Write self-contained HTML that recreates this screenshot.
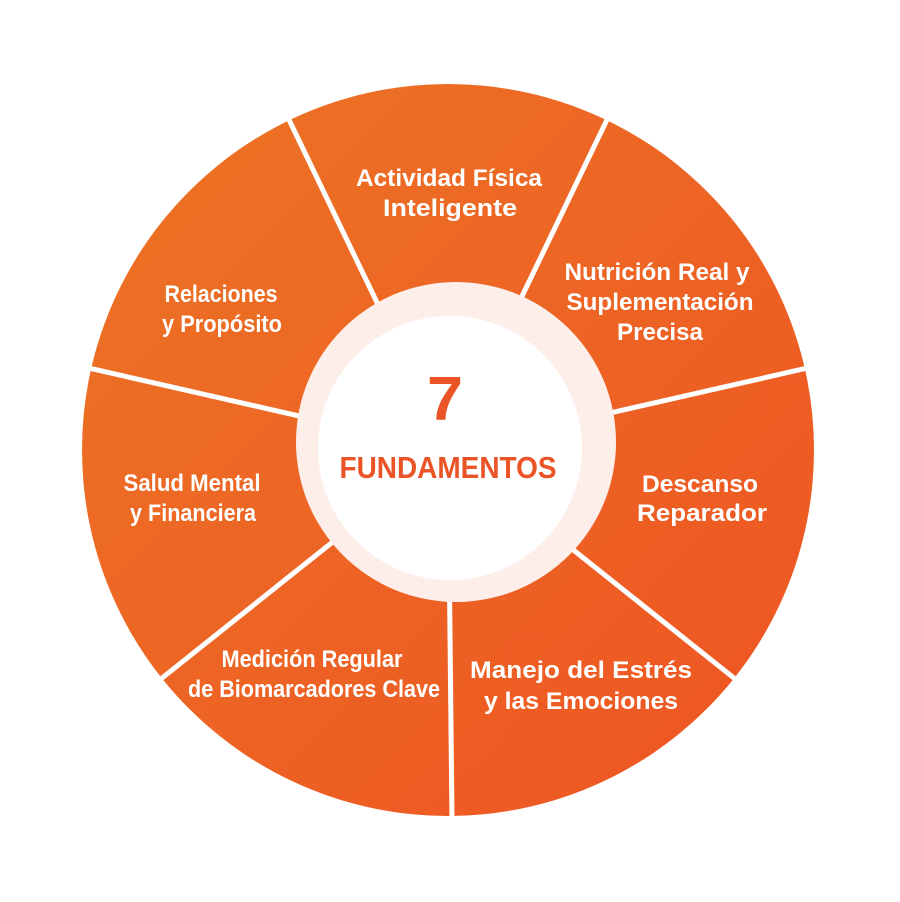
<!DOCTYPE html>
<html><head><meta charset="utf-8"><style>
html,body{margin:0;padding:0;background:#fff;}
text{font-family:"Liberation Sans Narrow","Liberation Sans",sans-serif;font-weight:bold;}
</style></head><body>
<svg width="900" height="897" viewBox="0 0 900 897" xmlns="http://www.w3.org/2000/svg">
<defs>
<linearGradient id="g" x1="0" y1="0" x2="1" y2="1">
<stop offset="0" stop-color="#ec7424"/><stop offset="1" stop-color="#ee5423"/>
</linearGradient>
</defs>
<circle cx="448" cy="450" r="366" fill="url(#g)"/>
<g stroke="#fff" stroke-width="5">
<line x1="448" y1="450" x2="608.5" y2="116.6"/>
<line x1="448" y1="450" x2="808.7" y2="367.7"/>
<line x1="448" y1="450" x2="737.3" y2="680.7"/>
<line x1="448" y1="450" x2="452" y2="820"/>
<line x1="448" y1="450" x2="158.7" y2="680.7"/>
<line x1="448" y1="450" x2="87.3" y2="367.7"/>
<line x1="448" y1="450" x2="287.5" y2="116.6"/>
</g>
<circle cx="456" cy="442" r="160" fill="#fdeee9"/>
<circle cx="450" cy="448" r="132" fill="#fff"/>
<text x="445" y="420" font-size="62" fill="#ea5426" text-anchor="middle" textLength="36" lengthAdjust="spacingAndGlyphs">7</text>
<text x="448" y="478" font-size="31" fill="#ea5426" text-anchor="middle" textLength="217" lengthAdjust="spacingAndGlyphs">FUNDAMENTOS</text>
<g fill="#fff" text-anchor="middle" font-size="24" lengthAdjust="spacingAndGlyphs">
<text x="449" y="186" textLength="186" lengthAdjust="spacingAndGlyphs">Actividad Física</text>
<text x="450" y="216" textLength="134" lengthAdjust="spacingAndGlyphs">Inteligente</text>
<text x="657" y="280" textLength="185" lengthAdjust="spacingAndGlyphs">Nutrición Real y</text>
<text x="660" y="310" textLength="187" lengthAdjust="spacingAndGlyphs">Suplementación</text>
<text x="660" y="340" textLength="86" lengthAdjust="spacingAndGlyphs">Precisa</text>
<text x="700" y="492" textLength="116" lengthAdjust="spacingAndGlyphs">Descanso</text>
<text x="702" y="521" textLength="130" lengthAdjust="spacingAndGlyphs">Reparador</text>
<text x="581" y="678" textLength="222" lengthAdjust="spacingAndGlyphs">Manejo del Estrés</text>
<text x="581" y="709" textLength="194" lengthAdjust="spacingAndGlyphs">y las Emociones</text>
<text x="312" y="667" textLength="181" lengthAdjust="spacingAndGlyphs">Medición Regular</text>
<text x="314" y="697" textLength="252" lengthAdjust="spacingAndGlyphs">de Biomarcadores Clave</text>
<text x="192" y="491" textLength="137" lengthAdjust="spacingAndGlyphs">Salud Mental</text>
<text x="193" y="521" textLength="126" lengthAdjust="spacingAndGlyphs">y Financiera</text>
<text x="221" y="302" textLength="113" lengthAdjust="spacingAndGlyphs">Relaciones</text>
<text x="222" y="332" textLength="120" lengthAdjust="spacingAndGlyphs">y Propósito</text>
</g>
</svg>
</body></html>
